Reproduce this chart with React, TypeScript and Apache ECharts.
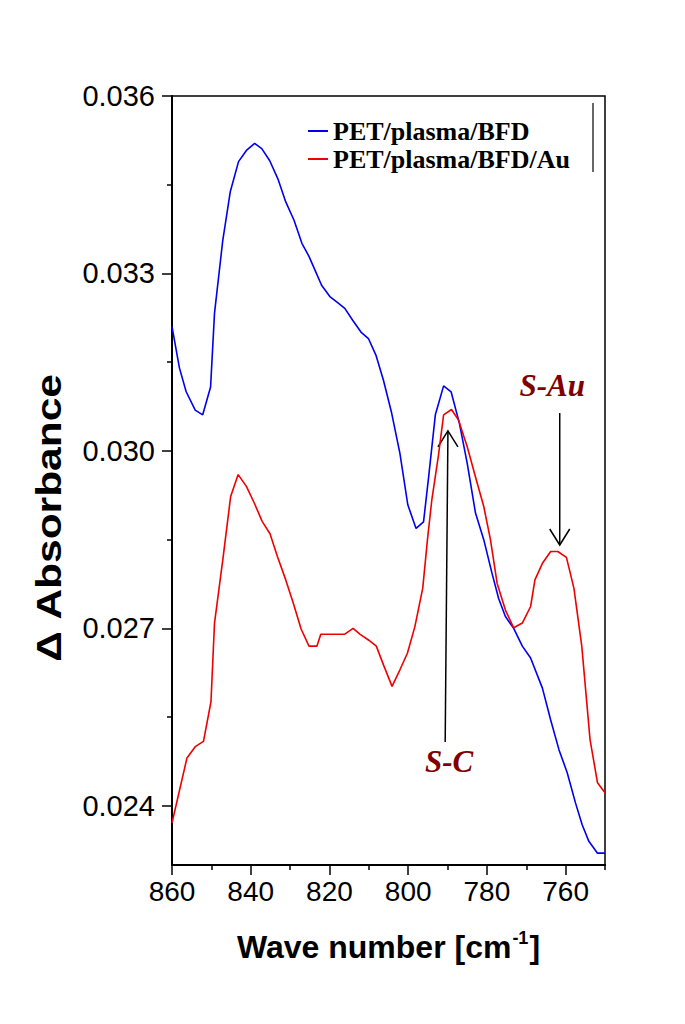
import React, { useEffect, useRef } from "react";
import * as echarts from "echarts";

// Wave numbers (cm-1) and absorbance values
const waveBlue = [
  860, 858.1, 856.4, 854.1, 852.2, 850.2, 849.2, 847.1, 845.2, 843.1, 841.1, 839.0, 837.2, 835.2,
  833.1, 831.1, 829.0, 827.0, 825.2, 823.7, 822.0, 819.9, 818.0, 816.1, 814.1, 812.0, 810.1, 808.2,
  806.3, 804.2, 802.1, 800.1, 798.0, 796.1, 794.8, 793.1, 791.0, 789.1, 787.0, 785.0, 782.9, 780.8,
  778.7, 777.0, 775.3, 773.2, 771.0, 768.9, 765.9, 763.8, 761.7, 759.6, 757.5, 755.8, 754.1, 751.9, 750,
];
const absBlue = [
  0.0321, 0.0314, 0.031, 0.03069, 0.03061, 0.03108, 0.03233, 0.03356, 0.03438, 0.03489, 0.03508,
  0.0352, 0.03511, 0.03491, 0.0346, 0.03421, 0.0339, 0.03351, 0.03329, 0.03306, 0.0328, 0.03261,
  0.03251, 0.03241, 0.03221, 0.03201, 0.0319, 0.03162, 0.0312, 0.03064, 0.02996, 0.02909, 0.02869,
  0.0288, 0.02956, 0.03061, 0.0311, 0.031, 0.03047, 0.02979, 0.02895, 0.0285, 0.02793, 0.0275,
  0.0272, 0.027, 0.0267, 0.0265, 0.02599, 0.02545, 0.02495, 0.02456, 0.02405, 0.02368, 0.0234,
  0.0232, 0.0232,
];

const waveRed = [
  860, 856.2, 854.1, 852.0, 850.1, 849.2, 847.0, 845.1, 843.2, 841.1, 839.1, 837.1, 835.1, 833.2,
  831.1, 829.2, 827.2, 825.2, 823.2, 822.2, 820.2, 818.1, 816.2, 814.0, 812.2, 810.0, 808.1, 806.2,
  804.1, 802.1, 800.2, 798.3, 796.3, 795.1, 794.0, 792.3, 791.0, 789.0, 787.2, 785.0, 782.9, 780.8,
  779.1, 777.4, 775.3, 773.2, 771.0, 768.9, 767.8, 765.9, 763.8, 762.0, 759.8, 757.9, 755.9, 753.8,
  751.9, 750,
];
const absRed = [
  0.02371, 0.02481, 0.025, 0.02509, 0.02576, 0.02709, 0.02821, 0.02923, 0.0296, 0.0294, 0.02912,
  0.02881, 0.0286, 0.02821, 0.02782, 0.02743, 0.02699, 0.0267, 0.0267, 0.0269, 0.0269, 0.0269,
  0.0269, 0.027, 0.0269, 0.0268, 0.0267, 0.02637, 0.02602, 0.0263, 0.02658, 0.02703, 0.02768,
  0.0285, 0.02917, 0.02993, 0.03061, 0.0307, 0.03052, 0.03007, 0.02956, 0.02906, 0.0285, 0.02776,
  0.02731, 0.02701, 0.02709, 0.02737, 0.02782, 0.0281, 0.0283, 0.0283, 0.0282, 0.02768, 0.0267,
  0.02512, 0.02439, 0.02422,
];

const seriesNames = ["PET/plasma/BFD", "PET/plasma/BFD/Au"];

const xMajorTicks = [860, 840, 820, 800, 780, 760];
const xMinorTicks = [850, 830, 810, 790, 770, 750];
const yMajorTicks = [0.024, 0.027, 0.03, 0.033, 0.036];
const yMinorTicks = [0.0255, 0.0285, 0.0315, 0.0345];

// Annotations (data coordinates): label, label anchor, arrow tail, arrow head
const annotations = [
  { label: "S-Au", text: [763.4, 0.03111], from: [761.5, 0.03064], to: [761.5, 0.02841] },
  { label: "S-C", text: [789.6, 0.02475], from: [790.6, 0.02508], to: [789.9, 0.03034] },
];

const zip = (xs: number[], ys: number[]) => xs.map((x, i) => [x, ys[i]]);

export default function App() {
  const ref = useRef<HTMLDivElement>(null);

  useEffect(() => {
    document.body.style.margin = "0";
    const chart = echarts.init(ref.current!, null, { renderer: "svg" });

    const sans = "Liberation Sans";
    const serif = "Liberation Serif";

    const option: any = {
      animation: false,
      backgroundColor: "#ffffff",
      grid: {
        left: 172,
        right: 80,
        top: 96,
        bottom: 159,
        show: true,
        borderColor: "#000",
        borderWidth: 1.5,
        backgroundColor: "transparent",
      },
      legend: {
        orient: "vertical",
        left: 303,
        top: 112,
        icon: "rect",
        itemWidth: 20,
        itemHeight: 2,
        itemGap: 0,
        textStyle: {
          fontFamily: serif,
          fontWeight: "bold",
          fontSize: 26,
          color: "#000",
          lineHeight: 28,
        },
        data: seriesNames,
      },
      xAxis: [
        {
          type: "value",
          inverse: true,
          min: 750,
          max: 860,
          position: "bottom",
          name: "{b|Wave number [cm}{s|-1}{b|]}",
          nameLocation: "middle",
          nameGap: 64,
          nameTextStyle: {
            rich: {
              b: { fontFamily: sans, fontWeight: "bold", fontSize: 32, color: "#000", lineHeight: 36 },
              s: { fontFamily: sans, fontWeight: "bold", fontSize: 18, color: "#000", lineHeight: 36, verticalAlign: "top", padding: [0, 1, 14, 1] },
            },
          },
          axisLine: { show: true, lineStyle: { color: "#000", width: 2 } },
          axisTick: { show: true, length: 10, lineStyle: { color: "#000", width: 1.5 }, customValues: xMajorTicks },
          axisLabel: {
            color: "#000",
            fontFamily: sans,
            fontSize: 28,
            margin: 12,
            customValues: xMajorTicks,
            formatter: (v: number) => String(Math.round(v)),
          },
          splitLine: { show: false },
        },
        {
          type: "value",
          inverse: true,
          min: 750,
          max: 860,
          position: "bottom",
          axisLine: { show: false },
          axisTick: { show: true, length: 5, lineStyle: { color: "#000", width: 1.5 }, customValues: xMinorTicks },
          axisLabel: { show: false },
          splitLine: { show: false },
        },
      ],
      yAxis: [
        {
          type: "value",
          min: 0.023,
          max: 0.036,
          position: "left",
          axisLine: { show: true, lineStyle: { color: "#000", width: 2 } },
          axisTick: { show: true, length: 10, lineStyle: { color: "#000", width: 1.5 }, customValues: yMajorTicks },
          axisLabel: {
            color: "#000",
            fontFamily: sans,
            fontSize: 29,
            margin: 17,
            customValues: yMajorTicks,
            formatter: (v: number) => v.toFixed(3),
          },
          splitLine: { show: false },
        },
        {
          type: "value",
          min: 0.023,
          max: 0.036,
          position: "left",
          axisLine: { show: false },
          axisTick: { show: true, length: 5, lineStyle: { color: "#000", width: 1.5 }, customValues: yMinorTicks },
          axisLabel: { show: false },
          splitLine: { show: false },
        },
      ],
      series: [
        {
          name: seriesNames[0],
          type: "line",
          xAxisIndex: 0,
          yAxisIndex: 0,
          showSymbol: false,
          color: "#0000ee",
          lineStyle: { color: "#0000ee", width: 1.6 },
          data: zip(waveBlue, absBlue),
        },
        {
          name: seriesNames[1],
          type: "line",
          xAxisIndex: 0,
          yAxisIndex: 0,
          showSymbol: false,
          color: "#ee0000",
          lineStyle: { color: "#ee0000", width: 1.6 },
          data: zip(waveRed, absRed),
        },
      ],
    };
    chart.setOption(option);

    const px = (p: number[]) => chart.convertToPixel({ seriesIndex: 0 }, p) as number[];
    const graphics: any[] = [
      {
        type: "text",
        x: 48,
        y: 518,
        rotation: Math.PI / 2,
        scaleX: 1.18,
        style: {
          text: "Δ Absorbance",
          fontFamily: sans,
          fontWeight: "bold",
          fontSize: 36,
          fill: "#000",
          align: "center",
          verticalAlign: "middle",
        },
      },
      {
        type: "line",
        shape: { x1: 593, y1: 103, x2: 593, y2: 172 },
        style: { stroke: "#000", lineWidth: 1.2 },
      },
    ];
    annotations.forEach((a) => {
      const t = px(a.text);
      const f = px(a.from);
      const h = px(a.to);
      const dir = h[1] > f[1] ? 1 : -1;
      graphics.push({
        type: "text",
        x: t[0],
        y: t[1],
        style: {
          text: a.label,
          fontFamily: serif,
          fontWeight: "bold",
          fontStyle: "italic",
          fontSize: 31,
          fill: "#800000",
          align: "center",
          verticalAlign: "middle",
        },
      });
      graphics.push({
        type: "line",
        shape: { x1: f[0], y1: f[1], x2: h[0], y2: h[1] },
        style: { stroke: "#000", lineWidth: 1.5 },
      });
      graphics.push({
        type: "polyline",
        shape: {
          points: [
            [h[0] - 10, h[1] - dir * 16],
            [h[0], h[1]],
            [h[0] + 10, h[1] - dir * 16],
          ],
        },
        style: { stroke: "#000", lineWidth: 1.5, fill: null },
      });
    });
    chart.setOption({ graphic: graphics });

    return () => chart.dispose();
  }, []);

  return <div ref={ref} style={{ width: 685, height: 1024 }} />;
}
